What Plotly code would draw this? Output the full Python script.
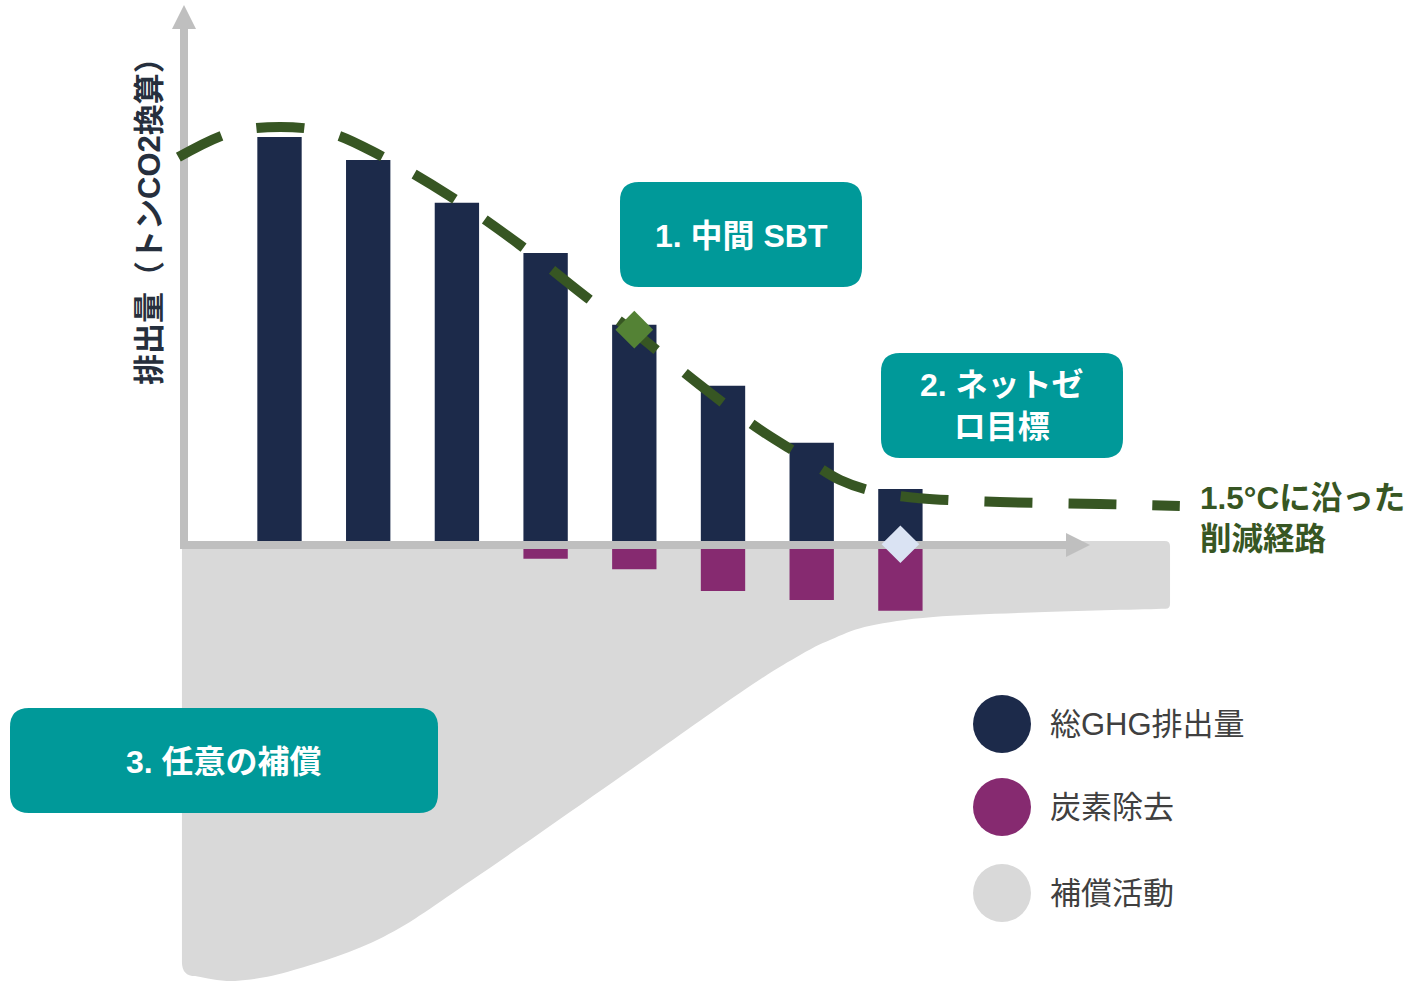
import plotly.graph_objects as go

W, H = 1409, 981

# ---------------- data (emission units, period index) ----------------
periods = [1, 2, 3, 4, 5, 6, 7, 8]
total_ghg = [100.0, 94.3, 83.7, 71.3, 53.5, 38.4, 24.3, 12.9]
removal_periods = [4, 5, 6, 7, 8]
removals = [2.4, 5.0, 10.4, 12.6, 15.3]

path_x = [-0.14, 0.44, 1.01, 1.57, 2.13, 2.92, 3.71, 4.50, 4.97, 5.74, 6.42, 6.87, 7.32, 7.77, 8.22, 9.12, 10.25, 11.15]
path_y = [95.0, 101.0, 102.5, 101.0, 95.5, 85.4, 73.3, 59.7, 52.2, 38.6, 27.5, 21.3, 15.1, 11.9, 10.6, 9.65, 9.16, 8.66]

interim_x, interim_y = [5.0], [52.3]
netzero_x, netzero_y = [8.0], [-0.8]

# compensation area: lower boundary (right to left), top is 0
comp_left, comp_right = -0.10, 11.04
comp_x = [10.99, 9.63, 8.37, 7.66, 7.26, 6.87, 6.19, 4.68, 3.17, 2.17, 1.16, 0.50, 0.05]
comp_y = [-16.8, -17.6, -18.8, -21.0, -24.0, -28.2, -37.6, -60.9, -83.9, -98.0, -106.2, -108.9, -107.7]

legend_labels = ["総GHG排出量", "炭素除去", "補償活動"]
box_labels = ["1. 中間 SBT", "2. ネットゼ<br>ロ目標", "3. 任意の補償"]
path_label = "1.5°Cに沿った<br>削減経路"
y_title = "排出量（トンCO2換算）"

# ---------------- styles ----------------
NAVY = "#1C2A4A"
PURPLE = "#862A70"
GREYAREA = "#D9D9D9"
AXIS = "#BFBFBF"
TEAL = "#009999"
DKGREEN = "#375623"
GREEN = "#548235"
LIGHT = "#DAE3F3"
FONT = "Liberation Sans, Noto Sans CJK JP, sans-serif"

# axis scale: pixel x = 279.5 + (x-1)*88.7 ; pixel y = 541 - y*4.04
XS, X0 = 88.7, 279.5
YS, Y0 = 4.04, 541.0
x_range = [1 - X0 / XS, 1 + (W - X0) / XS]
y_range = [(Y0 - H) / YS, Y0 / YS]


def px(p):
    return p / W


def py(p):
    return 1 - p / H


def dx(p):
    return 1 + (p - X0) / XS


def dy(p):
    return (Y0 - p) / YS


def rr_path(x0, y0, x1, y1, r):
    pts = [
        ("M", [(x0 + r, y0)]),
        ("L", [(x1 - r, y0)]),
        ("Q", [(x1, y0), (x1, y0 + r)]),
        ("L", [(x1, y1 - r)]),
        ("Q", [(x1, y1), (x1 - r, y1)]),
        ("L", [(x0 + r, y1)]),
        ("Q", [(x0, y1), (x0, y1 - r)]),
        ("L", [(x0, y0 + r)]),
        ("Q", [(x0, y0), (x0 + r, y0)]),
    ]
    s = ""
    for cmd, ps in pts:
        s += cmd + " " + " ".join(f"{px(a):.5f},{py(b):.5f}" for a, b in ps) + " "
    return s + "Z"


def catmull(points):
    segs = []
    n = len(points)
    for i in range(n - 1):
        p0 = points[i - 1] if i > 0 else points[i]
        p1 = points[i]
        p2 = points[i + 1]
        p3 = points[i + 2] if i + 2 < n else points[i + 1]
        c1 = (p1[0] + (p2[0] - p0[0]) / 6, p1[1] + (p2[1] - p0[1]) / 6)
        c2 = (p2[0] - (p3[0] - p1[0]) / 6, p2[1] - (p3[1] - p1[1]) / 6)
        segs.append(f"C {c1[0]:.4f},{c1[1]:.4f} {c2[0]:.4f},{c2[1]:.4f} {p2[0]:.4f},{p2[1]:.4f}")
    return " ".join(segs)


fig = go.Figure()

# compensation area (shape below traces, in data coords)
lower = list(zip(comp_x, comp_y))
cx = 0.06
cy = 1.3
gpath = f"M {comp_left},0 L {comp_right - cx},0 Q {comp_right},0 {comp_right},{-cy} "
gpath += f"L {comp_right},{comp_y[0] + cy} Q {comp_right},{comp_y[0]} {comp_x[0]},{comp_y[0]} "
gpath += catmull(lower) + " "
gpath += f"Q {comp_left},{comp_y[-1]} {comp_left},{comp_y[-1] + 3.5} L {comp_left},0 Z"

shapes = [dict(type="path", path=gpath, xref="x", yref="y", fillcolor=GREYAREA,
               line=dict(width=0), layer="below")]

# axes arrows (decoration, drawn in the same subplot layer, above the area)
shapes.append(dict(type="line", xref="x", yref="y", x0=dx(184), x1=dx(184), y0=dy(549), y1=dy(26),
                   line=dict(color=AXIS, width=8), layer="below"))
shapes.append(dict(type="path", xref="x", yref="y",
                   path=f"M {dx(172)},{dy(29)} L {dx(184)},{dy(5)} L {dx(196)},{dy(29)} Z",
                   fillcolor=AXIS, line=dict(width=0), layer="below"))
shapes.append(dict(type="line", xref="x", yref="y", x0=dx(180), x1=dx(1068), y0=dy(545), y1=dy(545),
                   line=dict(color=AXIS, width=8), layer="below"))
shapes.append(dict(type="path", xref="x", yref="y",
                   path=f"M {dx(1066)},{dy(533)} L {dx(1090)},{dy(545)} L {dx(1066)},{dy(557)} Z",
                   fillcolor=AXIS, line=dict(width=0), layer="below"))

# teal boxes
boxes = [(620, 182, 862, 287), (881, 353, 1123, 458), (10, 708, 438, 813)]
for b in boxes:
    shapes.append(dict(type="path", xref="paper", yref="paper", path=rr_path(*b, 19),
                       fillcolor=TEAL, line=dict(width=0), layer="above"))

# legend circles
legend_colors = [NAVY, PURPLE, GREYAREA]
legend_y = [724, 807, 893]
for c, yy in zip(legend_colors, legend_y):
    shapes.append(dict(type="circle", xref="paper", yref="paper",
                       x0=px(973), x1=px(1031), y0=py(yy + 29), y1=py(yy - 29),
                       fillcolor=c, line=dict(width=0), layer="above"))

# traces
fig.add_trace(go.Bar(x=periods, y=total_ghg, width=0.5, marker=dict(color=NAVY, line=dict(width=0)),
                     name=legend_labels[0]))
fig.add_trace(go.Bar(x=removal_periods, y=[-r for r in removals], base=-1.98, width=0.5,
                     marker=dict(color=PURPLE, line=dict(width=0)), name=legend_labels[1]))
fig.add_trace(go.Scatter(x=path_x, y=path_y, mode="lines",
                         line=dict(color=DKGREEN, width=10, dash="48px,36px", shape="spline", smoothing=1.0),
                         name="1.5°C"))
fig.add_trace(go.Scatter(x=interim_x, y=interim_y, mode="markers",
                         marker=dict(symbol="diamond", size=29, color=GREEN, line=dict(width=0))))
fig.add_trace(go.Scatter(x=netzero_x, y=netzero_y, mode="markers",
                         marker=dict(symbol="diamond", size=29, color=LIGHT, line=dict(width=0))))

annotations = []
box_centers = [(741, 236), (1002, 406), (224, 762)]
for t, (bx, by) in zip(box_labels, box_centers):
    annotations.append(dict(text=t, x=px(bx), y=py(by), xref="paper", yref="paper", showarrow=False,
                            xanchor="center", yanchor="middle", align="center",
                            font=dict(family=FONT, size=32, color="white", weight="bold")))
annotations.append(dict(text=path_label, x=px(1198), y=py(518), xref="paper", yref="paper", showarrow=False,
                        xanchor="left", yanchor="middle", align="left",
                        font=dict(family=FONT, size=31.5, color=DKGREEN, weight="bold")))
for t, yy in zip(legend_labels, legend_y):
    annotations.append(dict(text=t, x=px(1048), y=py(yy), xref="paper", yref="paper", showarrow=False,
                            xanchor="left", yanchor="middle",
                            font=dict(family=FONT, size=31, color="#404040")))
annotations.append(dict(text=y_title, x=px(149), y=py(214), xref="paper", yref="paper", showarrow=False,
                        textangle=-90, xanchor="center", yanchor="middle",
                        font=dict(family=FONT, size=31, color="#262F3D", weight="bold")))

fig.update_layout(
    width=W, height=H, margin=dict(l=0, r=0, t=0, b=0),
    paper_bgcolor="white", plot_bgcolor="white",
    barmode="overlay", showlegend=False,
    xaxis=dict(range=x_range, visible=False, fixedrange=True),
    yaxis=dict(range=y_range, visible=False, fixedrange=True),
    shapes=shapes, annotations=annotations,
)

fig.write_html("out.html", config={"displayModeBar": False},
               post_script="document.body.style.margin='0';document.body.style.overflow='hidden';")
